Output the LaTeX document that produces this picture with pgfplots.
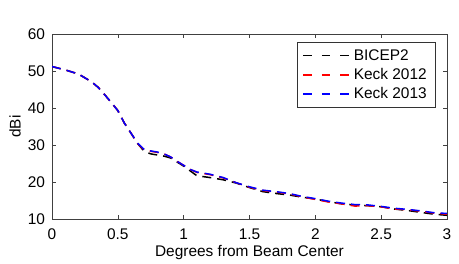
\documentclass[border=0pt]{standalone}
\usepackage{pgfplots}
\pgfplotsset{compat=1.18}
\usepackage{fontspec}
\setmainfont{Liberation Sans}
\begin{document}
\begin{tikzpicture}
\begin{axis}[
  at={(0,0)}, anchor=south west,
  scale only axis,
  width=395bp, height=185bp,
  xmin=0, xmax=3, ymin=10, ymax=60,
  xtick={0,0.5,1,1.5,2,2.5,3},
  ytick={10,20,30,40,50,60},
  tick align=inside,
  tick pos=both,
  major tick length=4bp,
  axis line style={line width=0.6bp, black!75},
  tick style={line width=0.5bp, black!75},
  /pgf/number format/assume math mode=true,
  ticklabel style={font=\fontsize{15.5}{18}\selectfont},
  xticklabel style={anchor=base, yshift=-20bp},
  yticklabel style={anchor=east, xshift=-3.5bp},
  label style={font=\fontsize{15.5}{18}\selectfont},
  xlabel={Degrees from Beam Center},
  ylabel={dBi},
  xlabel style={at={(axis description cs:0.5,-0.2038)}, anchor=base},
  ylabel style={at={(axis description cs:-0.0937,0.5)}, anchor=center},
  legend style={at={(0.971,0.955)}, anchor=north east, font=\fontsize{15.5}{18}\selectfont,
    draw=black!80, line width=0.6bp, inner xsep=5.5bp, inner ysep=3.5bp,
    nodes={inner xsep=3bp, inner ysep=3.3bp}},
  legend cell align=left,
  legend image code/.code={\draw[#1, line width=1.8bp, dash pattern=on 8.5bp off 10bp] (0bp,0bp) -- (46.6bp,0bp);},
]
\addplot[black, line width=1.5bp, dash pattern=on 9bp off 6bp] coordinates {
(0,51.2) (0.1,50.3) (0.2,49.2) (0.3,47.1) (0.35,45.6) (0.4,43.6) (0.45,41.5) (0.5,39.3) (0.55,35.9) (0.6,33.2) (0.65,30.4) (0.7,28.3) (0.75,27.6) (0.8,27.3) (0.85,27.0) (0.9,26.5) (0.95,25.4) (1.0,24.3) (1.05,23.0) (1.1,21.7) (1.2,21.2) (1.3,20.6) (1.4,19.7) (1.5,18.5) (1.6,17.4) (1.7,16.9) (1.8,16.5) (1.9,15.9) (2.0,15.4) (2.1,14.7) (2.2,14.1) (2.3,13.8) (2.4,13.6) (2.5,13.3) (2.6,12.7) (2.7,12.3) (2.8,11.8) (2.9,11.3) (3.0,11.0)
};
\addlegendentry{BICEP2}
\addplot[red, line width=1.5bp, dash pattern=on 9bp off 6bp] coordinates {
(0,51.2) (0.1,50.3) (0.2,49.2) (0.3,47.1) (0.35,45.6) (0.4,43.6) (0.45,41.5) (0.5,39.3) (0.55,35.9) (0.6,33.2) (0.65,30.4) (0.7,28.7) (0.75,28.3) (0.8,28.0) (0.85,27.6) (0.9,26.8) (0.95,25.6) (1.0,24.5) (1.05,23.4) (1.1,22.6) (1.2,22.0) (1.3,21.1) (1.4,19.8) (1.5,18.6) (1.6,17.7) (1.7,17.3) (1.8,16.8) (1.9,16.0) (2.0,15.3) (2.1,14.6) (2.2,14.1) (2.3,13.5) (2.4,13.6) (2.5,13.3) (2.6,12.7) (2.7,12.5) (2.8,12.1) (2.9,11.6) (3.0,11.3)
};
\addlegendentry{Keck 2012}
\addplot[blue, line width=1.5bp, dash pattern=on 9bp off 6bp] coordinates {
(0,51.2) (0.1,50.3) (0.2,49.2) (0.3,47.1) (0.35,45.6) (0.4,43.6) (0.45,41.5) (0.5,39.3) (0.55,35.9) (0.6,33.2) (0.65,30.5) (0.7,28.8) (0.75,28.4) (0.8,28.1) (0.85,27.6) (0.9,26.8) (0.95,25.6) (1.0,24.5) (1.05,23.4) (1.1,22.7) (1.2,22.1) (1.3,21.2) (1.4,19.8) (1.5,18.7) (1.6,17.8) (1.7,17.4) (1.8,16.9) (1.9,16.1) (2.0,15.5) (2.1,14.8) (2.2,14.3) (2.3,13.9) (2.4,13.8) (2.5,13.4) (2.6,12.9) (2.7,12.6) (2.8,12.2) (2.9,11.7) (3.0,11.5)
};
\addlegendentry{Keck 2013}
\end{axis}
\path[use as bounding box] (-52bp,-43bp) rectangle (407bp,219bp);
\end{tikzpicture}
\end{document}
